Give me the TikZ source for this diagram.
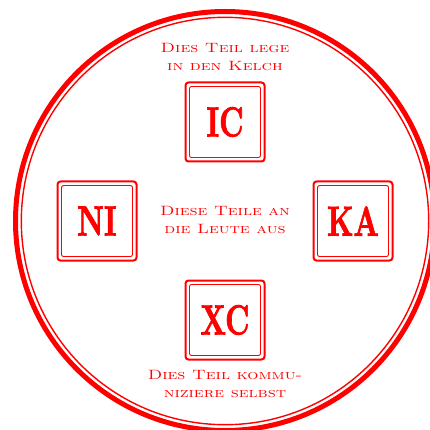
\documentclass[tikz,border=0pt]{standalone}
\usepackage{fontspec}
\usepackage{tikz}
\definecolor{seal}{RGB}{255,0,0}
\newfontface\platefont{lmroman10-bold.otf}[FakeBold=2]

\tikzset{
  frame/.style={draw=seal, line width=2pt, rounded corners=3pt, minimum size=79pt, inner sep=0pt},
  plate/.style={draw=seal, line width=0.9pt, rounded corners=2pt, minimum size=71pt, inner sep=0pt,
    text=seal, font=\fontsize{42}{42}\platefont},
  note/.style={text=seal, font=\fontsize{13.5}{18}\selectfont\scshape, inner sep=0pt}
}
\newcommand{\narrow}[1]{\scalebox{0.7}[1]{#1}}
\newcommand{\wide}[1]{\scalebox{1.3}[1]{\begin{tabular}{@{}c@{}}#1\end{tabular}}}

\begin{document}
\begin{tikzpicture}[x=1pt, y=-1pt]
\useasboundingbox (0,0) rectangle (429,430);
% seal rings
\draw[seal, line width=5pt] (225,221) circle[radius=209.5];
\draw[seal, line width=1.4pt] (225,221) circle[radius=203.7];
% the four pieces
\node[frame] (icF) at (225,122) {};
\node[plate] (ic) at (icF) {\narrow{IC}};
\node[frame] (niF) at (97,221) {};
\node[plate] (ni) at (niF) {\narrow{NI}};
\node[frame] (kaF) at (353,221) {};
\node[plate] (ka) at (kaF) {\narrow{KA}};
\node[frame] (xcF) at (225,320) {};
\node[plate] (xc) at (xcF) {\narrow{XC}};
% notes
\node[note] (top) at (225,58) {\wide{Dies Teil lege\\in den Kelch}};
\node[note] (mid) at (225,221) {\wide{Diese Teile an\\die Leute aus}};
\node[note] (bot) at (225,385) {\wide{Dies Teil kommu-\\niziere selbst}};
\end{tikzpicture}
\end{document}
